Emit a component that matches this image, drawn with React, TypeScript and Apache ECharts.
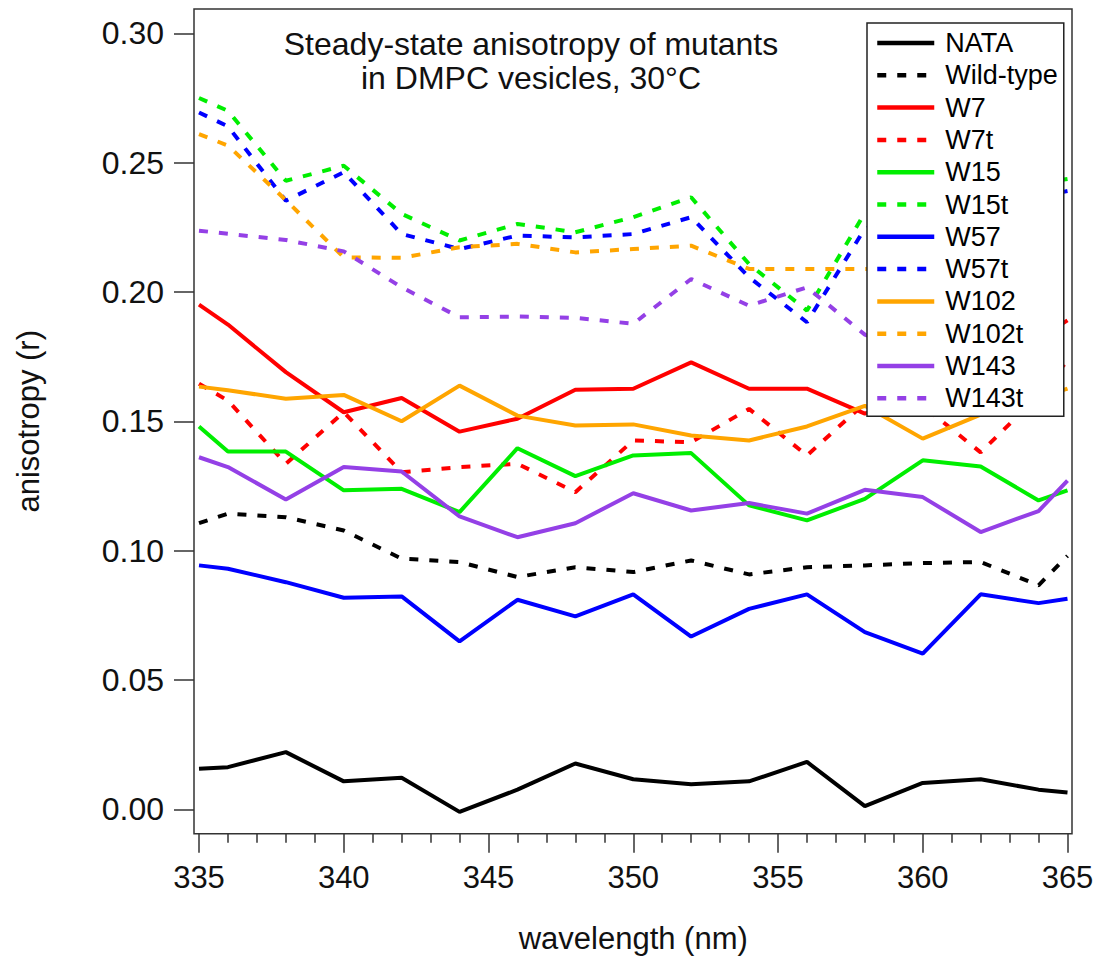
import React, { useEffect, useRef } from 'react';
import * as echarts from 'echarts';

const wavelengths = [335, 336, 338, 340, 342, 344, 346, 348, 350, 352, 354, 356, 358, 360, 362, 364, 365];

const NATA = [0.0157, 0.0163, 0.0221, 0.0108, 0.0122, -0.001, 0.0076, 0.0177, 0.0116, 0.0097, 0.0108, 0.0183, 0.0012, 0.0102, 0.0116, 0.0076, 0.0065];
const WildType = [0.1106, 0.1143, 0.1129, 0.1078, 0.0969, 0.0956, 0.0898, 0.0936, 0.0917, 0.0962, 0.0908, 0.0936, 0.0943, 0.0952, 0.0956, 0.0866, 0.098];
const W7 = [0.1951, 0.1874, 0.169, 0.1535, 0.159, 0.146, 0.151, 0.1622, 0.1626, 0.1728, 0.1626, 0.1626, 0.153, 0.158, 0.17, 0.182, 0.189];
const W7t = [0.1645, 0.158, 0.1336, 0.1535, 0.1303, 0.1323, 0.1336, 0.1226, 0.1426, 0.1419, 0.1548, 0.1368, 0.157, 0.156, 0.138, 0.16, 0.1735];
const W15 = [0.148, 0.1383, 0.1383, 0.1233, 0.1239, 0.1149, 0.1396, 0.1288, 0.1368, 0.1377, 0.1175, 0.1117, 0.12, 0.1349, 0.1325, 0.1194, 0.1233];
const W15t = [0.275, 0.27, 0.243, 0.2488, 0.2302, 0.2199, 0.2263, 0.2231, 0.2289, 0.2366, 0.2108, 0.1928, 0.2306, 0.238, 0.24, 0.242, 0.2437];
const W57 = [0.0943, 0.093, 0.0878, 0.0818, 0.0823, 0.0649, 0.081, 0.0746, 0.0831, 0.0668, 0.0775, 0.0831, 0.0685, 0.0602, 0.0831, 0.0797, 0.0814];
const W57t = [0.2694, 0.264, 0.2353, 0.2463, 0.2224, 0.2166, 0.2218, 0.2211, 0.2224, 0.2289, 0.2057, 0.1883, 0.2245, 0.231, 0.234, 0.237, 0.239];
const W102 = [0.1634, 0.162, 0.1587, 0.1602, 0.15, 0.1638, 0.1522, 0.1484, 0.1488, 0.1445, 0.1426, 0.148, 0.156, 0.1433, 0.1526, 0.159, 0.1626];
const W102t = [0.261, 0.2566, 0.2355, 0.2134, 0.2132, 0.2173, 0.2186, 0.2153, 0.2166, 0.2179, 0.2089, 0.2089, 0.2089, 0.209, 0.21];
const W143 = [0.1361, 0.1323, 0.1198, 0.1323, 0.1306, 0.1132, 0.1052, 0.1106, 0.1222, 0.1155, 0.1184, 0.1143, 0.1235, 0.1207, 0.1072, 0.1153, 0.1271];
const W143t = [0.2237, 0.2225, 0.2201, 0.2157, 0.2018, 0.1902, 0.1905, 0.19, 0.1877, 0.205, 0.1947, 0.2018, 0.1835, 0.175];

const yTicks = [0, 0.05, 0.1, 0.15, 0.2, 0.25, 0.3];

const RED = '#ff0000';
const GREEN = '#00ee00';
const BLUE = '#0000ff';
const ORANGE = '#ffa500';
const PURPLE = '#9440e6';
const BLACK = '#000000';

const seriesDefs = [
  { name: 'NATA', values: NATA, color: BLACK, dashed: false },
  { name: 'Wild-type', values: WildType, color: BLACK, dashed: true },
  { name: 'W7', values: W7, color: RED, dashed: false },
  { name: 'W7t', values: W7t, color: RED, dashed: true },
  { name: 'W15', values: W15, color: GREEN, dashed: false },
  { name: 'W15t', values: W15t, color: GREEN, dashed: true },
  { name: 'W57', values: W57, color: BLUE, dashed: false },
  { name: 'W57t', values: W57t, color: BLUE, dashed: true },
  { name: 'W102', values: W102, color: ORANGE, dashed: false },
  { name: 'W102t', values: W102t, color: ORANGE, dashed: true },
  { name: 'W143', values: W143, color: PURPLE, dashed: false },
  { name: 'W143t', values: W143t, color: PURPLE, dashed: true },
];

const FONT = 'Liberation Sans, Arial, sans-serif';

export default function App() {
  const ref = useRef<HTMLDivElement>(null);
  useEffect(() => {
    const chart = echarts.init(ref.current as HTMLDivElement, null, { renderer: 'svg' });
    chart.setOption({
      animation: false,
      backgroundColor: '#ffffff',
      grid: { left: 199, right: 36.5, top: 33.3, bottom: 149.7, containLabel: false },
      xAxis: {
        type: 'value',
        min: 335,
        max: 365,
        interval: 5,
        offset: 24.4,
        axisLine: { show: false, onZero: false },
        axisTick: { show: true, inside: false, length: 19, lineStyle: { color: '#333', width: 1.5 } },
        minorTick: { show: true, splitNumber: 5, length: 9, lineStyle: { color: '#333', width: 1.5 } },
        splitLine: { show: false },
        axisLabel: { fontSize: 31, fontFamily: FONT, color: '#111', margin: 28 },
        name: 'wavelength (nm)',
        nameLocation: 'middle',
        nameGap: 89,
        nameTextStyle: { fontSize: 31, fontFamily: FONT, color: '#111' },
      },
      yAxis: {
        type: 'value',
        min: yTicks[0],
        max: yTicks[yTicks.length - 1],
        interval: 0.05,
        offset: 5,
        axisLine: { show: false, onZero: false },
        axisTick: { show: true, inside: false, length: 20, lineStyle: { color: '#333', width: 1.5 } },
        splitLine: { show: false },
        axisLabel: {
          fontSize: 32,
          fontFamily: FONT,
          color: '#111',
          margin: 30,
          formatter: (v: number) => v.toFixed(2),
        },
        name: 'anisotropy (r)',
        nameLocation: 'middle',
        nameGap: 150,
        nameRotate: 90,
        nameTextStyle: { fontSize: 31, fontFamily: FONT, color: '#111' },
      },
      legend: {
        orient: 'vertical',
        left: 867,
        top: 23,
        padding: [6.5, 6, 4.5, 8],
        itemWidth: 57,
        itemHeight: 14,
        itemGap: 5.3,
        backgroundColor: '#ffffff',
        borderColor: '#222',
        borderWidth: 1.5,
        borderRadius: 0,
        itemStyle: { opacity: 0 },
        lineStyle: { width: 4.5 },
        textStyle: { fontSize: 27, fontFamily: FONT, color: '#000', lineHeight: 27, padding: [0, 0, 0, 6] },
        data: seriesDefs.map((s) => s.name),
      },
      graphic: [
        {
          type: 'rect',
          shape: { x: 194, y: 9, width: 878, height: 824.7 },
          style: { fill: 'none', stroke: '#333', lineWidth: 1.5 },
          z: 10,
          silent: true,
        },
        {
          type: 'text',
          x: 531,
          y: 44,
          style: {
            text: 'Steady-state anisotropy of mutants',
            fontSize: 32,
            fontFamily: FONT,
            fill: '#111',
            textAlign: 'center',
            textVerticalAlign: 'middle',
            align: 'center',
            verticalAlign: 'middle',
          },
        },
        {
          type: 'text',
          x: 531,
          y: 78,
          style: {
            text: 'in DMPC vesicles, 30°C',
            fontSize: 32,
            fontFamily: FONT,
            fill: '#111',
            textAlign: 'center',
            textVerticalAlign: 'middle',
            align: 'center',
            verticalAlign: 'middle',
          },
        },
      ],
      series: seriesDefs.map((s) => ({
        name: s.name,
        type: 'line',
        symbol: 'none',
        clip: false,
        data: s.values.map((v, i) => [wavelengths[i], v]),
        itemStyle: { color: s.color },
        lineStyle: {
          color: s.color,
          width: 4,
          type: s.dashed ? [9, 11] : 'solid',
          cap: 'butt',
        },
      })),
    });
    return () => chart.dispose();
  }, []);
  return <div ref={ref} style={{ position: 'fixed', left: 0, top: 0, width: 1104, height: 959 }} />;
}
